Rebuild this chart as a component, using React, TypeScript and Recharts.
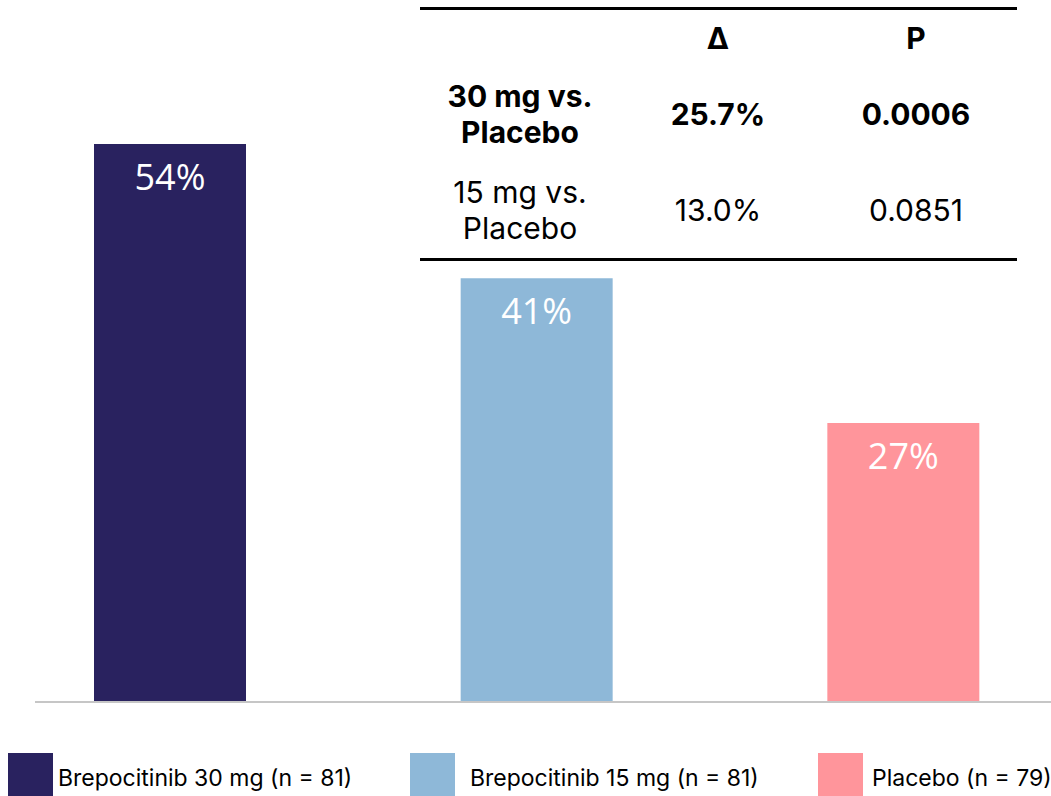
import { Bar, BarChart, Cell, LabelList, XAxis, YAxis } from "recharts";

// bar groups
const groups = ["Brepocitinib 30 mg", "Brepocitinib 15 mg", "Placebo"];
const groupN = [81, 81, 79];
const responders = [54, 41, 27];
const barColors = ["#29225f", "#8eb8d8", "#ff959b"];

// comparison table
const tableHeader = ["", "Δ", "P"];
const compareLabels = [
  ["30 mg vs.", "Placebo"],
  ["15 mg vs.", "Placebo"]
];
const deltas = ["25.7%", "13.0%"];
const pValues = ["0.0006", "0.0851"];
const boldRows = [true, false];

const chartData = groups.map((name, i) => ({ name, value: responders[i] }));

const FONT = "Inter, 'Noto Sans', sans-serif";
const legendLeft = [8, 410, 818];
const legendTextGap = [50, 60, 54];
const colWidths = [200, 196, 200];

export default function App() {
  return (
    <div style={{ position: "absolute", left: 0, top: 0, width: 1051, height: 796, background: "#fff", overflow: "hidden" }}>
      <BarChart
        width={1051}
        height={796}
        data={chartData}
        margin={{ top: 82, right: 0, bottom: 84, left: 35 }}
      >
        <YAxis hide domain={[0, 60]} />
        <XAxis
          dataKey="name"
          height={10}
          tick={false}
          tickLine={false}
          axisLine={{ stroke: "#c6c6c6", strokeWidth: 2 }}
          padding={{ left: -48, right: -36 }}
        />
        <Bar dataKey="value" barSize={152} isAnimationActive={false}>
          {chartData.map((d, i) => (
            <Cell key={d.name} fill={barColors[i]} />
          ))}
          <LabelList
            dataKey="value"
            position="insideTop"
            offset={20}
            fill="#ffffff"
            fontSize={36}
            fontFamily="'Open Sans', sans-serif"
            formatter={(v: number) => `${v}%`}
          />
        </Bar>
      </BarChart>

      {/* comparison table */}
      <div
        style={{
          position: "absolute",
          left: 420,
          top: 7,
          width: 597,
          borderTop: "3px solid #000",
          borderBottom: "3px solid #000",
          fontFamily: FONT,
          fontSize: 30,
          color: "#000"
        }}
      >
        <div style={{ display: "flex", height: 56, alignItems: "center", fontWeight: 700 }}>
          {tableHeader.map((h, i) => (
            <div key={i} style={{ width: colWidths[i], textAlign: "center" }}>{h}</div>
          ))}
        </div>
        {compareLabels.map((lbl, r) => (
          <div
            key={r}
            style={{ display: "flex", height: 96, alignItems: "center", fontWeight: boldRows[r] ? 700 : 400 }}
          >
            <div style={{ width: colWidths[0], textAlign: "center", lineHeight: "36px" }}>
              {lbl[0]}
              <br />
              {lbl[1]}
            </div>
            <div style={{ width: colWidths[1], textAlign: "center" }}>{deltas[r]}</div>
            <div style={{ width: colWidths[2], textAlign: "center" }}>{pValues[r]}</div>
          </div>
        ))}
      </div>

      {/* legend */}
      {groups.map((g, i) => (
        <div key={g} style={{ position: "absolute", left: legendLeft[i], top: 753, height: 43, fontFamily: FONT }}>
          <div style={{ position: "absolute", left: 0, top: 0, width: 45, height: 43, background: barColors[i] }} />
          <div
            style={{
              position: "absolute",
              left: legendTextGap[i],
              top: 4,
              lineHeight: "43px",
              fontSize: 23,
              whiteSpace: "nowrap",
              color: "#000"
            }}
          >
            {`${g} (n = ${groupN[i]})`}
          </div>
        </div>
      ))}
    </div>
  );
}
